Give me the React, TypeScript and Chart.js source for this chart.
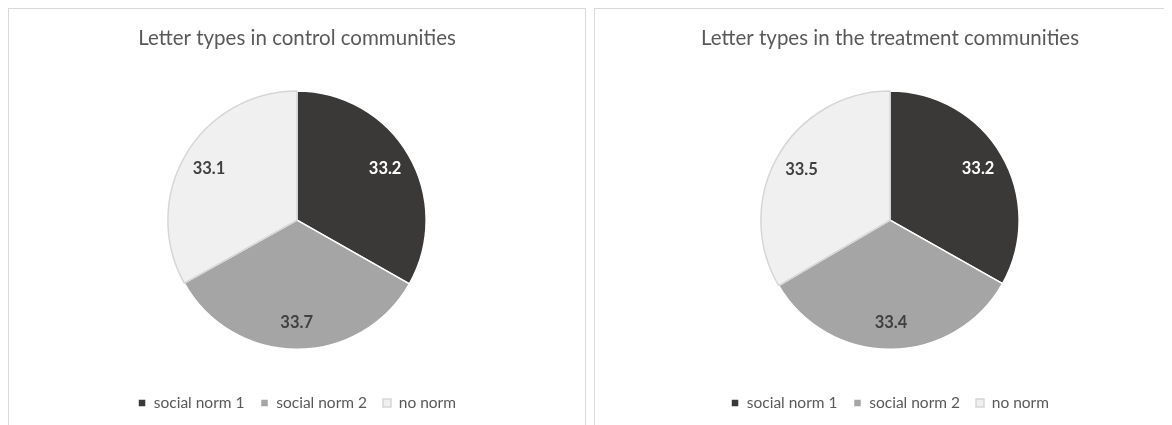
import React, { useEffect, useRef } from "react";
import { Chart, registerables } from "chart.js";

Chart.register(...registerables);

const categories = ["social norm 1", "social norm 2", "no norm"];
const controlValues = [33.2, 33.7, 33.1];
const treatmentValues = [33.2, 33.4, 33.5];
const controlTitle = "Letter types in control communities";
const treatmentTitle = "Letter types in the treatment communities";

const sliceColors = ["#3a3938", "#a5a5a5", "#f0f0f0"];
const sliceBorders = ["#ffffff", "#ffffff", "#d6d6d6"];
const labelColors = ["#ffffff", "#404040", "#404040"];
const FONT = "Lato, 'Open Sans', sans-serif";

const labelPlugin = {
  id: "sliceLabels",
  afterDatasetsDraw(chart: any) {
    const ctx = chart.ctx;
    const meta = chart.getDatasetMeta(0);
    const data = chart.data.datasets[0].data;
    ctx.save();
    ctx.font = `bold 16.5px ${FONT}`;
    ctx.textAlign = "center";
    ctx.textBaseline = "middle";
    meta.data.forEach((arc: any, i: number) => {
      const p = arc.getProps(["x", "y", "startAngle", "endAngle", "outerRadius"], true);
      const mid = (p.startAngle + p.endAngle) / 2;
      const r = p.outerRadius * 0.79;
      ctx.fillStyle = labelColors[i];
      ctx.fillText(Number(data[i]).toFixed(1), p.x + Math.cos(mid) * r, p.y + Math.sin(mid) * r);
    });
    ctx.restore();
  },
};

function PieCanvas({ title, values, w }: { title: string; values: number[]; w: number }) {
  const ref = useRef<HTMLCanvasElement | null>(null);
  useEffect(() => {
    if (!ref.current) return;
    const chart = new Chart(ref.current, {
      type: "pie",
      data: {
        labels: categories,
        datasets: [
          {
            data: values,
            backgroundColor: sliceColors,
            borderColor: sliceBorders,
            borderWidth: 1.5,
          },
        ],
      },
      options: {
        animation: false,
        responsive: false,
        maintainAspectRatio: false,
        layout: { padding: { top: 0, bottom: 4.25, left: 0, right: 0 } },
        plugins: {
          title: {
            display: true,
            text: title,
            color: "#595959",
            font: { family: FONT, size: 20.5, weight: "normal" },
            padding: { top: 16.7, bottom: 40 },
          },
          legend: {
            position: "bottom",
            title: {
              display: true,
              text: "",
              font: { size: 1 },
              padding: { top: 0, bottom: 28 },
            },
            labels: {
              color: "#595959",
              font: { family: FONT, size: 15.5 },
              boxWidth: 8,
              boxHeight: 8,
              padding: 16,
            },
          },
          tooltip: { enabled: false },
        },
      },
      plugins: [labelPlugin],
    });
    return () => chart.destroy();
  }, [title, values, w]);
  return <canvas ref={ref} width={w} height={416} style={{ display: "block", width: w, height: 416 }} />;
}

export default function App() {
  useEffect(() => {
    document.documentElement.style.overflow = "hidden";
    document.body.style.overflow = "hidden";
  }, []);
  const panel: React.CSSProperties = {
    position: "absolute",
    top: 0,
    height: 440,
    border: "1px solid #d9d9d9",
    boxSizing: "border-box",
    background: "#fff",
  };
  return (
    <div style={{ position: "relative", width: 1164, height: 417, overflow: "hidden" }}>
      <div style={{ ...panel, left: 0, width: 578 }}>
        <PieCanvas title={controlTitle} values={controlValues} w={576} />
      </div>
      <div style={{ ...panel, left: 586, width: 592 }}>
        <PieCanvas title={treatmentTitle} values={treatmentValues} w={590} />
      </div>
    </div>
  );
}
